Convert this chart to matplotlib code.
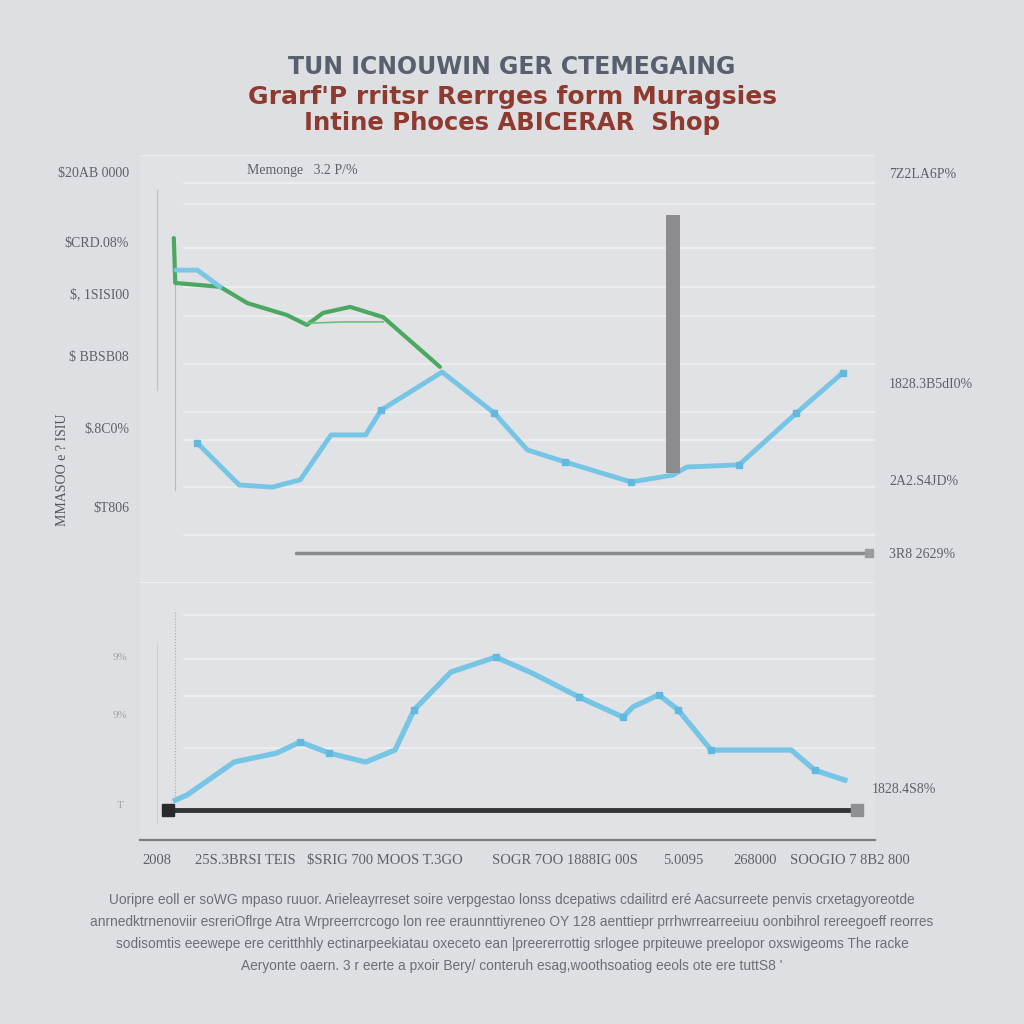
import matplotlib
matplotlib.use("Agg")
from matplotlib import pyplot as plt

# Datos (x 0-100, y 0-100 arriba, y 0-60 abajo)
# panel superior
azul_x = [7.8, 13.5, 18.0, 21.8, 26.0, 30.7, 32.8, 41.1, 48.2, 52.7, 57.8, 66.8, 72.5, 74.4, 81.5, 89.3, 95.6]
azul_y = [32.7, 22.9, 22.4, 24.1, 34.6, 34.6, 40.4, 49.3, 39.7, 31.1, 28.3, 23.6, 25.2, 27.1, 27.6, 39.7, 49.1]
azul0_x = [4.9, 7.8, 10.9]
azul0_y = [73.1, 73.1, 69.2]
verde_x = [4.6, 4.8, 10.9, 14.6, 20.0, 22.7, 24.9, 28.6, 33.1, 40.8]
verde_y = [80.6, 70.1, 69.2, 65.4, 62.6, 60.3, 63.1, 64.5, 62.1, 50.5]
lazo_x = [22.7, 27.9, 33.1]
lazo_y = [60.7, 61.0, 61.0]
barra_x = [72.5]
barra_min = [25.7]
barra_max = [86.0]
media_x = [21.2, 99.2]
media_y = [7.0, 7.0]
grid_sup = [93.5, 88.6, 78.3, 69.2, 62.4, 51.2, 40.0, 33.4, 22.4, 11.2]
# panel inferior
bajo_x = [4.8, 6.4, 12.8, 18.6, 21.8, 25.7, 30.7, 34.7, 37.3, 42.3, 48.4, 53.3, 59.7,
          65.7, 67.1, 70.6, 73.2, 77.7, 82.7, 88.6, 91.8, 95.9]
bajo_y = [9.3, 10.5, 18.2, 20.3, 22.9, 20.3, 18.2, 21.0, 30.4, 39.2, 42.7, 39.0, 33.4,
          28.7, 31.1, 33.9, 30.4, 21.0, 21.0, 21.0, 16.3, 14.0]
base_x = [3.8, 97.6]
base_y = [7.0, 7.0]
grid_inf = [52.5, 42.3, 33.6, 21.5]

# textos
titulo1 = "TUN ICNOUWIN GER CTEMEGAING"
titulo2 = "Grarf'P rritsr Rerrges form Muragsies"
titulo3 = "Intine Phoces ABICERAR  Shop"
yticks_izq = [96.0, 79.7, 67.8, 53.0, 36.2, 17.8]
ylabels_izq = ["$20AB 0000", "$CRD.08%", "$, 1SISI00", "$ BBSB08", "$.8C0%", "$T806"]
yticks_der = [95.8, 46.7, 24.1, 7.0]
ylabels_der = ["7Z2LA6P%", "1828.3B5dI0%", "2A2.S4JD%", "3R8 2629%"]
yticks_der2 = [12.1]
ylabels_der2 = ["1828.4S8%"]
xticks = [2.3, 14.3, 33.3, 57.8, 73.9, 83.7, 96.6]
xlabels = ["2008", "25S.3BRSI TEIS", "$SRIG 700 MOOS T.3GO", "SOGR 7OO 1888IG 00S",
           "5.0095", "268000", "SOOGIO 7 8B2 800"]
nota = ["Uoripre eoll er soWG mpaso ruuor. Arieleayrreset soire verpgestao lonss dcepatiws cdailitrd eré Aacsurreete penvis crxetagyoreotde",
        "anrnedktrnenoviir esreriOflrge Atra Wrpreerrcrcogo lon ree eraunnttiyreneo OY 128 aenttiepr prrhwrrearreeiuu oonbihrol rereegoeff reorres",
        "sodisomtis eeewepe ere ceritthhly ectinarpeekiatau oxeceto ean |preererrottig srlogee prpiteuwe preelopor oxswigeoms The racke",
        "Aeryonte oaern. 3 r eerte a pxoir Bery/ conteruh esag,woothsoatiog eeols ote ere tuttS8 '"]

fondo = "#dedfe3"
gris_txt = "#5f6066"
fuente_t = ["Liberation Serif", "DejaVu Serif"]
fuente_n = ["Liberation Sans", "DejaVu Sans"]

fig = plt.figure(figsize=(10.24, 10.24), dpi=100)
fig.patch.set_facecolor(fondo)

# titulo
fig.text(0.5, 1 - 67 / 1024, titulo1, ha="center", va="center", fontsize=17,
         fontweight="bold", color="#5a5f6e", family="DejaVu Sans")
fig.text(0.5, 1 - 97 / 1024, titulo2, ha="center", va="center", fontsize=18,
         fontweight="bold", color="#8e3a2e", family="DejaVu Sans")
fig.text(0.5, 1 - 123 / 1024, titulo3, ha="center", va="center", fontsize=17.5,
         fontweight="bold", color="#8e3a2e", family="DejaVu Sans")

# panel superior
ax = fig.add_axes([140 / 1024, 1 - 583 / 1024, 735 / 1024, 428 / 1024])
ax.set_facecolor("#e1e2e5")
ax.set_xlim(0, 100)
ax.set_ylim(0, 100)
for s in ax.spines.values():
    s.set_visible(False)
ax.axhline(100, color="#eeeff1", lw=1.2)
ax.axhline(0, color="#eeeff1", lw=1.5)
for g in grid_sup:
    ax.axhline(g, xmin=0.06, xmax=1.0, color="#f1f1f3", lw=1.1, zorder=1)
# lineas verticales tenues
ax.plot([2.3, 2.3], [91.8, 45.1], color="#c4c5c9", lw=1.0, zorder=1)
ax.plot([4.8, 4.8], [70.0, 21.7], color="#b9babe", lw=0.8, zorder=1)
ax.set_xticks([])
ax.set_yticks(yticks_izq)
ax.set_yticklabels(ylabels_izq, family=fuente_t, fontsize=10, color=gris_txt)
ax.tick_params(axis="y", length=0, pad=8)

ax.plot(verde_x, verde_y, color="#4aa860", lw=3, solid_capstyle="round", zorder=3)
ax.plot(lazo_x, lazo_y, color="#6cbf80", lw=1.2, zorder=3)
ax.plot(azul0_x, azul0_y, color="#7cc8e4", lw=3.5, solid_capstyle="round", zorder=4)
ax.plot(azul_x, azul_y, color="#76c5e5", lw=3.5, solid_joinstyle="round",
        marker="s", markersize=5, markevery=[0, 6, 8, 10, 11, 14, 15, 16],
        markerfacecolor="#62b8dd", markeredgecolor="#62b8dd", zorder=4)
ax.bar(barra_x, [barra_max[0] - barra_min[0]], bottom=barra_min, width=1.9,
       color="#8c8c8e", zorder=5)
ax.plot(media_x, media_y, color="#88898c", lw=2.5, solid_capstyle="round", zorder=3)
ax.plot(media_x[1:], media_y[1:], marker="s", markersize=6, color="#9a9b9e", zorder=3)

ax_d = ax.twinx()
ax_d.set_ylim(0, 100)
for s in ax_d.spines.values():
    s.set_visible(False)
ax_d.set_yticks(yticks_der)
ax_d.set_yticklabels(ylabels_der, family=fuente_t, fontsize=10, color=gris_txt)
ax_d.tick_params(axis="y", length=0, pad=10)

ax.text(0.145, 0.963, "Memonge   3.2 P/%", transform=ax.transAxes, fontsize=10,
        color=gris_txt, family=fuente_t, va="center")
fig.text(63 / 1024, 1 - 470 / 1024, "MMASOO e ? ISIU", rotation=90, ha="center",
         va="center", fontsize=10, color="#55565c", family=fuente_t)

# panel inferior
bx = fig.add_axes([140 / 1024, 1 - 840 / 1024, 735 / 1024, 257 / 1024])
bx.set_facecolor("#e1e2e5")
bx.set_xlim(0, 100)
bx.set_ylim(0, 60)
for s in bx.spines.values():
    s.set_visible(False)
bx.spines["bottom"].set_visible(True)
bx.spines["bottom"].set_color("#7d7e82")
bx.spines["bottom"].set_linewidth(1.6)
for g in grid_inf:
    bx.axhline(g, xmin=0.06, xmax=1.0, color="#f1f1f3", lw=1.1, zorder=1)
bx.plot([4.8, 4.8], [53.2, 9.3], color="#a9aaae", lw=0.8, ls=":", zorder=1)
bx.plot([2.3, 2.3], [46.0, 4.0], color="#cfd0d3", lw=0.8, zorder=1)
bx.plot(base_x, base_y, color="#333437", lw=3.5, zorder=3)
bx.plot(base_x[:1], base_y[:1], marker="s", markersize=8, color="#2a2a2c", zorder=4)
bx.plot(base_x[1:], base_y[1:], marker="s", markersize=9, color="#8f9093", zorder=4)
bx.plot(bajo_x, bajo_y, color="#76c5e5", lw=3.8, solid_joinstyle="round",
        marker="s", markersize=5, markevery=[4, 5, 8, 10, 12, 13, 15, 16, 17, 20],
        markerfacecolor="#62b8dd", markeredgecolor="#62b8dd", zorder=5)
bx.set_xticks(xticks)
bx.set_xticklabels(xlabels, family=fuente_t, fontsize=10.5, color=gris_txt)
bx.tick_params(axis="x", length=0, pad=10)
bx.set_yticks([])

bx_d = bx.twinx()
bx_d.set_ylim(0, 60)
for s in bx_d.spines.values():
    s.set_visible(False)
bx_d.set_yticks(yticks_der2)
bx_d.set_yticklabels(ylabels_der2, family=fuente_t, fontsize=10, color=gris_txt)
bx_d.tick_params(axis="y", length=0, pad=-2)

# marcas tenues a la izquierda del panel inferior
for yy, tt in zip([657, 716, 806], ["9%", "9%", "T"]):
    fig.text(120 / 1024, 1 - yy / 1024, tt, ha="center", va="center", fontsize=8,
             color="#a0a1a5", family=fuente_t)

# nota al pie
for i, linea in enumerate(nota):
    fig.text(0.5, 1 - (900 + 22 * i) / 1024, linea, ha="center", va="center",
             fontsize=9.9, color="#6d6e73", family=fuente_n)

fig.savefig("out.png", dpi=100, facecolor=fondo)
